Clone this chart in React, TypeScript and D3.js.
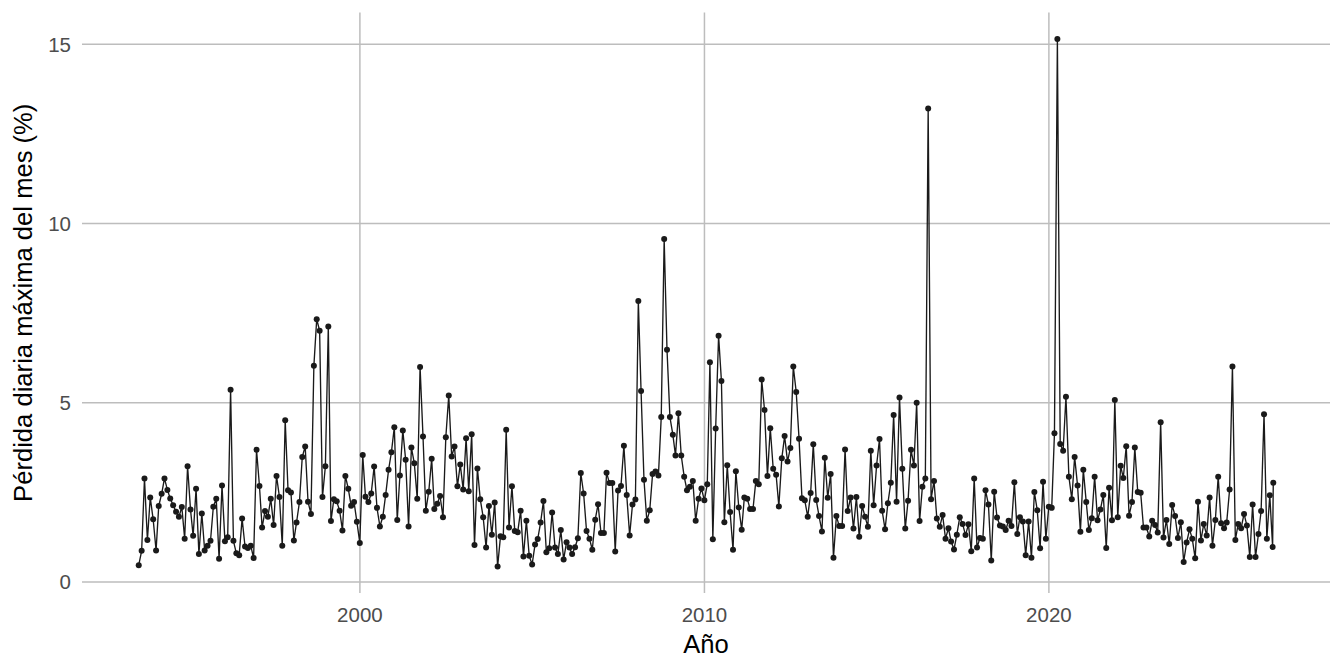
import * as d3 from 'd3';

// Monthly maximum daily loss (%), one value per month starting July 1993
const loss1990s = [
  0.47, 0.87, 2.89, 1.17, 2.36, 1.75,
  0.88, 2.12, 2.46, 2.89, 2.57, 2.33, 2.14, 1.96, 1.82, 2.09, 1.21, 3.23,
  2.02, 1.29, 2.6, 0.78, 1.91, 0.88, 1.01, 1.15, 2.1, 2.32, 0.65, 2.69,
  1.14, 1.25, 5.36, 1.15, 0.8, 0.75, 1.77, 0.99, 0.95, 1.01, 0.67, 3.69,
  2.68, 1.52, 1.98, 1.82, 2.32, 1.59, 2.96, 2.37, 1.01, 4.51, 2.56, 2.5,
  1.16, 1.66, 2.23, 3.49, 3.78, 2.24, 1.9, 6.03, 7.33, 7.01, 2.37, 3.23,
  7.13, 1.7, 2.31, 2.25, 1.99, 1.44, 2.96, 2.6, 2.13, 2.23, 1.68, 1.09,
];

const loss2000s = [
  3.54, 2.38, 2.23, 2.47, 3.22, 2.07, 1.55, 1.82, 2.43, 3.13, 3.62, 4.32,
  1.73, 2.97, 4.23, 3.41, 1.55, 3.75, 3.31, 2.32, 6.0, 4.06, 1.99, 2.52,
  3.44, 2.04, 2.18, 2.4, 1.81, 4.04, 5.2, 3.5, 3.78, 2.67, 3.28, 2.58,
  4.01, 2.53, 4.12, 1.03, 3.17, 2.31, 1.81, 0.96, 2.12, 1.32, 2.22, 0.43,
  1.28, 1.25, 4.25, 1.52, 2.67, 1.42, 1.39, 1.99, 0.71, 1.71, 0.73, 0.49,
  1.05, 1.2, 1.66, 2.26, 0.83, 0.94, 1.94, 0.96, 0.78, 1.45, 0.63, 1.11,
  0.96, 0.78, 0.97, 1.22, 3.04, 2.47, 1.42, 1.21, 0.9, 1.74, 2.17, 1.37,
  1.37, 3.05, 2.76, 2.76, 0.85, 2.55, 2.68, 3.8, 2.43, 1.3, 2.16, 2.3,
  7.84, 5.33, 2.85, 1.71, 2.0, 3.01, 3.08, 2.97, 4.6, 9.57, 6.48, 4.6,
  4.11, 3.53, 4.71, 3.53, 2.94, 2.56, 2.66, 2.82, 1.71, 2.32, 2.61, 2.28,
];

const loss2010s = [
  2.73, 6.13, 1.19, 4.28, 6.87, 5.61, 1.67, 3.26, 1.95, 0.9, 3.09, 2.08,
  1.46, 2.36, 2.32, 2.04, 2.04, 2.82, 2.73, 5.65, 4.8, 2.96, 4.29, 3.16,
  2.99, 2.11, 3.45, 4.07, 3.36, 3.74, 6.01, 5.3, 4.0, 2.34, 2.28, 1.82,
  2.48, 3.84, 2.29, 1.84, 1.41, 3.47, 2.35, 3.01, 0.68, 1.84, 1.56, 1.56,
  3.7, 1.98, 2.36, 1.49, 2.37, 1.26, 2.12, 1.82, 1.54, 3.66, 2.14, 3.25,
  3.99, 1.99, 1.47, 2.2, 2.77, 4.66, 2.24, 5.15, 3.16, 1.49, 2.27, 3.69,
  3.25, 5.0, 1.7, 2.66, 2.89, 13.21, 2.31, 2.82, 1.77, 1.54, 1.87, 1.21,
  1.5, 1.13, 0.91, 1.32, 1.81, 1.62, 1.31, 1.61, 0.86, 2.89, 0.96, 1.23,
  1.21, 2.56, 2.16, 0.6, 2.52, 1.8, 1.58, 1.55, 1.45, 1.71, 1.56, 2.78,
  1.34, 1.81, 1.69, 0.75, 1.69, 0.68, 2.51, 2.0, 0.94, 2.8, 1.21, 2.1,
];

const loss2020s = [
  2.07, 4.15, 15.15, 3.85, 3.66, 5.17, 2.94, 2.31, 3.49, 2.69, 1.4, 3.13,
  2.23, 1.45, 1.78, 2.94, 1.72, 2.02, 2.43, 0.95, 2.63, 1.72, 5.08, 1.81,
  3.24, 2.9, 3.79, 1.85, 2.23, 3.75, 2.51, 2.49, 1.52, 1.52, 1.27, 1.71,
  1.59, 1.38, 4.46, 1.24, 1.73, 1.06, 2.15, 1.84, 1.23, 1.67, 0.56, 1.1,
  1.47, 1.21, 0.66, 2.24, 1.16, 1.62, 1.3, 2.36, 1.01, 1.73, 2.94, 1.64,
  1.5, 1.66, 2.58, 6.01, 1.17, 1.62, 1.5, 1.9, 1.58, 0.7, 2.16, 0.7,
  1.34, 1.98, 4.68, 1.21, 2.42, 0.98, 2.77,
];

const firstYear = 1993;
const firstMonth = 6; // July (0-based)
const lastObservation = new Date(2026, 6, 7); // partial current month

const yTicks = [0, 5, 10, 15];
const xTickYears = [2000, 2010, 2020];
const xTitle = 'Año';
const yTitle = 'Pérdida diaria máxima del mes (%)';

interface Point { date: Date; value: number }

const values = [...loss1990s, ...loss2000s, ...loss2010s, ...loss2020s];
const data: Point[] = values.map((value, i) => ({
  // month-end date; the last value belongs to the running month
  date: i < values.length - 1 ? new Date(firstYear, firstMonth + i + 1, 0) : lastObservation,
  value,
}));

const W = 1344;
const H = 672;
const panel = { left: 82, right: 1330, top: 12.5, bottom: 593 };
const font = '"Liberation Sans", Arial, Helvetica, sans-serif';

// ggplot-like 5% expansion
function expand(lo: number, hi: number, k = 0.05): [number, number] {
  const pad = (hi - lo) * k;
  return [lo - pad, hi + pad];
}

export default function App() {
  const [t0, t1] = d3.extent(data, (d) => d.date.getTime()) as [number, number];
  const [v0, v1] = d3.extent(data, (d) => d.value) as [number, number];
  const xd = expand(t0, t1);

  const x = d3.scaleTime().domain([new Date(xd[0]), new Date(xd[1])]).range([panel.left, panel.right]);
  const y = d3.scaleLinear().domain(expand(v0, v1)).range([panel.bottom, panel.top]);

  const line = d3
    .line<Point>()
    .x((d) => x(d.date))
    .y((d) => y(d.value));

  const grid = '#BDBDBD';

  return (
    <svg
      width={W}
      height={H}
      style={{ position: 'absolute', left: 0, top: 0, background: '#fff', display: 'block' }}
      fontFamily={font}
    >
      {/* grid */}
      {yTicks.map((t) => (
        <line key={'gy' + t} x1={panel.left} x2={panel.right} y1={y(t)} y2={y(t)} stroke={grid} strokeWidth={1.5} />
      ))}
      {xTickYears.map((yr) => {
        const px = x(new Date(yr, 0, 1));
        return <line key={'gx' + yr} x1={px} x2={px} y1={panel.top} y2={panel.bottom} stroke={grid} strokeWidth={1.5} />;
      })}

      {/* series */}
      <path d={line(data) ?? ''} fill="none" stroke="#1a1a1a" strokeWidth={1.35} strokeLinejoin="round" />
      {data.map((d, i) => (
        <circle key={i} cx={x(d.date)} cy={y(d.value)} r={3} fill="#1a1a1a" />
      ))}

      {/* y tick labels */}
      {yTicks.map((t) => (
        <text key={'ty' + t} x={71} y={y(t)} dy="0.36em" textAnchor="end" fontSize={20.5} fill="#4D4D4D">
          {t}
        </text>
      ))}
      {/* x tick labels */}
      {xTickYears.map((yr) => (
        <text key={'tx' + yr} x={x(new Date(yr, 0, 1))} y={621.7} textAnchor="middle" fontSize={20.5} fill="#4D4D4D">
          {yr}
        </text>
      ))}

      {/* axis titles */}
      <text x={(panel.left + panel.right) / 2} y={652.7} textAnchor="middle" fontSize={25.6} fill="#000">
        {xTitle}
      </text>
      <text
        transform={`translate(31.5, ${(panel.top + panel.bottom) / 2}) rotate(-90)`}
        textAnchor="middle"
        fontSize={25.6}
        fill="#000"
      >
        {yTitle}
      </text>
    </svg>
  );
}
